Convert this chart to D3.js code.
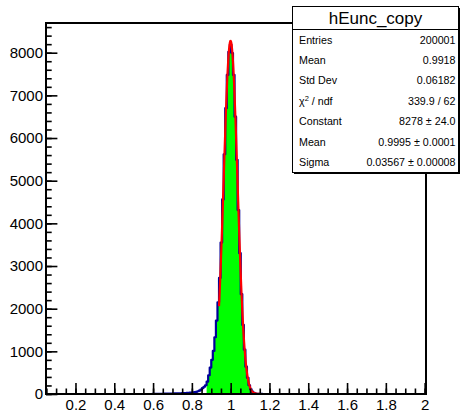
<!DOCTYPE html>
<html>
<head>
<meta charset="utf-8">
<script src="https://cdn.jsdelivr.net/npm/d3@7"></script>
<style>
  html, body { margin: 0; padding: 0; background: #fff; }
  svg { display: block; }
  text { font-family: "Liberation Sans", Arial, Helvetica, sans-serif; fill: #000; }
</style>
</head>
<body>
<svg id="chart" width="462" height="412"></svg>
<script>
// ---------------- data ----------------
const histName = "hEunc_copy";
const xRange = [0.048, 2.007];        // axis range
const yRange = [0, 8696];
const binStart = 0.596;               // low edge of first listed bin
const binWidth = 0.008;
// bin contents (bins outside this list are empty)
const counts = [
  3, 4, 4, 5, 5, 6, 6, 7, 8, 8, 9, 10, 11,
  12, 13, 14, 15, 17, 18, 20, 22, 24, 26, 28, 30,
  33, 38, 44, 52, 64, 80, 104, 140, 170, 205,
  290, 440, 620, 800, 1010, 1330, 1720, 2150, 2720, 3550,
  4560, 5620, 6700, 7480, 8020, 8190, 7990, 7480, 6500, 5490,
  4310, 3300, 2340, 1620, 1040, 640, 380, 205, 110, 55,
  27, 12, 6, 3, 2, 1
];
const greenRange = [0.876, 1.2];      // filled sub-range
const fitRange = [0.94, 1.2];
const fitParams = { constant: 8278, mean: 0.9995, sigma: 0.03567 };
const xMajorTicks = [0.2, 0.4, 0.6, 0.8, 1.0, 1.2, 1.4, 1.6, 1.8, 2.0];
const yMajorTicks = [0, 1000, 2000, 3000, 4000, 5000, 6000, 7000, 8000];
const statLabels = ["Entries", "Mean", "Std Dev", "χ2 / ndf", "Constant", "Mean", "Sigma"];
const statValues = ["200001", "0.9918", "0.06182", "339.9 / 62", "8278 ± 24.0", "0.9995 ± 0.0001", "0.03567 ± 0.00008"];

// ---------------- layout ----------------
const svg = d3.select("#chart");
const L = 46, R = 426, T = 23, B = 394;
const x = d3.scaleLinear().domain(xRange).range([L, R]);
const y = d3.scaleLinear().domain(yRange).range([B, T]);

// bins
const bins = counts.map((c, i) => {
  const lo = +(binStart + i * binWidth).toFixed(4);
  return { lo, hi: +(lo + binWidth).toFixed(4), v: c };
});

function stepPoints(bs) {
  const pts = [];
  bs.forEach(b => { pts.push([b.lo, b.v]); pts.push([b.hi, b.v]); });
  return pts;
}
const line = d3.line().x(d => x(d[0])).y(d => y(d[1]));

// green filled sub-histogram
const gBins = bins.filter(b => b.lo >= greenRange[0] - 1e-9 && b.hi <= greenRange[1] + 1e-9);
const gPts = [[gBins[0].lo, 0], ...stepPoints(gBins), [gBins[gBins.length - 1].hi, 0]];
svg.append("path").attr("d", line(gPts) + "Z").attr("fill", "#00ff00").attr("stroke", "none");

// blue outline histogram over full range
const bPts = [[xRange[0], 0], [bins[0].lo, 0], ...stepPoints(bins), [bins[bins.length - 1].hi, 0], [xRange[1], 0]];
svg.append("path").attr("d", line(bPts)).attr("fill", "none")
  .attr("stroke", "#000099").attr("stroke-width", 2.2).attr("stroke-linejoin", "round");

// red gaussian fit
const nFit = 300;
const fitPts = d3.range(nFit + 1).map(i => {
  const xv = fitRange[0] + (fitRange[1] - fitRange[0]) * i / nFit;
  const z = (xv - fitParams.mean) / fitParams.sigma;
  return [xv, fitParams.constant * Math.exp(-0.5 * z * z)];
});
svg.append("path").attr("d", line(fitPts)).attr("fill", "none")
  .attr("stroke", "#ff0000").attr("stroke-width", 2.2);

// frame
svg.append("rect").attr("x", L).attr("y", T).attr("width", R - L).attr("height", B - T)
  .attr("fill", "none").attr("stroke", "#000").attr("stroke-width", 2);

// x axis
const xMinor = d3.range(0.05, 2.0001, 0.05).map(v => +v.toFixed(2));
const xAxisMajor = d3.axisBottom(x).tickValues(xMajorTicks).tickSizeInner(-11).tickSizeOuter(0)
  .tickPadding(5).tickFormat(d => String(+d.toFixed(1)));
const xAxisMinor = d3.axisBottom(x).tickValues(xMinor).tickSizeInner(-5.5).tickSizeOuter(0).tickFormat("");
const gxm = svg.append("g").attr("transform", `translate(0,${B})`).call(xAxisMinor);
const gx = svg.append("g").attr("transform", `translate(0,${B})`).call(xAxisMajor);
[gx, gxm].forEach(g => { g.select(".domain").remove(); g.selectAll("line").attr("stroke", "#000").attr("stroke-width", 1.6); });
gx.selectAll("text").attr("font-size", 15).attr("font-family", "Liberation Sans, Arial, sans-serif").attr("fill", "#000");

// y axis
const yMinor = d3.range(0, 8601, 200);
const yAxisMajor = d3.axisLeft(y).tickValues(yMajorTicks).tickSizeInner(-11.4).tickSizeOuter(0)
  .tickPadding(3).tickFormat(d3.format("d"));
const yAxisMinor = d3.axisLeft(y).tickValues(yMinor).tickSizeInner(-5.7).tickSizeOuter(0).tickFormat("");
const gym = svg.append("g").attr("transform", `translate(${L},0)`).call(yAxisMinor);
const gy = svg.append("g").attr("transform", `translate(${L},0)`).call(yAxisMajor);
[gy, gym].forEach(g => { g.select(".domain").remove(); g.selectAll("line").attr("stroke", "#000").attr("stroke-width", 1.6); });
gy.selectAll("text").attr("font-size", 15).attr("font-family", "Liberation Sans, Arial, sans-serif").attr("fill", "#000");

// stats box
const sx0 = 292.5, sx1 = 458.5, sy0 = 6.5, sy1 = 172.5, sHead = 29.5;
svg.append("rect").attr("x", sx0 + 1.5).attr("y", sy0 + 1.5).attr("width", sx1 - sx0).attr("height", sy1 - sy0).attr("fill", "#000");
svg.append("rect").attr("x", sx0).attr("y", sy0).attr("width", sx1 - sx0).attr("height", sy1 - sy0)
  .attr("fill", "#fff").attr("stroke", "#000").attr("stroke-width", 1);
svg.append("line").attr("x1", sx0).attr("x2", sx1).attr("y1", sHead).attr("y2", sHead).attr("stroke", "#000");
svg.append("text").attr("x", (sx0 + sx1) / 2).attr("y", 18).attr("text-anchor", "middle")
  .attr("dominant-baseline", "central").attr("font-size", 17).text(histName);
const rowH = (sy1 - sHead) / statLabels.length;
statLabels.forEach((lab, i) => {
  const cy = sHead + rowH * (i + 0.5) + 3.8;
  const t = svg.append("text").attr("x", sx0 + 6.5).attr("y", cy).attr("font-size", 10.7);
  if (lab.startsWith("χ2")) {
    t.append("tspan").text("χ");
    t.append("tspan").attr("dy", -4).attr("font-size", 7.5).text("2");
    t.append("tspan").attr("dy", 4).text(" / ndf");
  } else {
    t.text(lab);
  }
  svg.append("text").attr("x", sx1 - 3).attr("y", cy).attr("text-anchor", "end")
    .attr("font-size", 10.7).text(statValues[i]);
});
</script>
</body>
</html>
